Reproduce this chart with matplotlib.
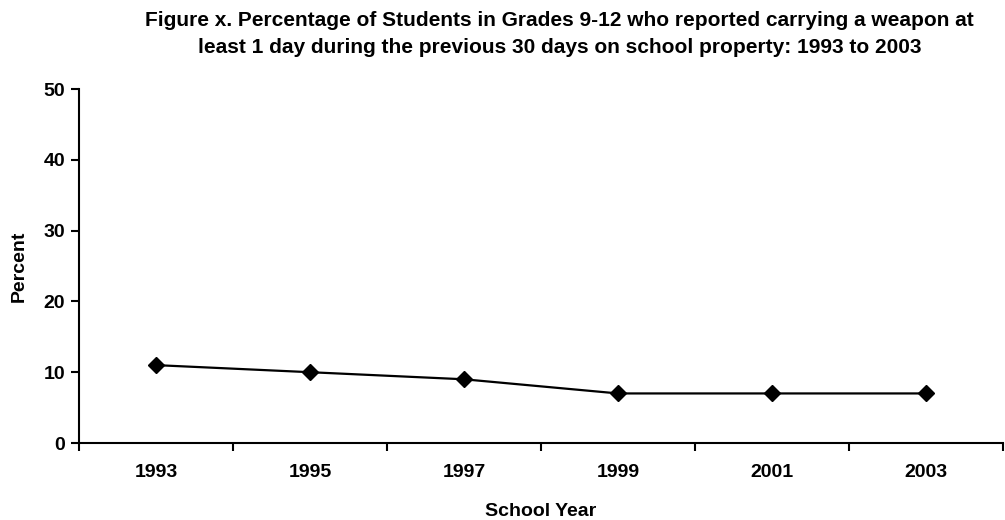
import matplotlib.pyplot as plt

years = ['1993', '1995', '1997', '1999', '2001', '2003']
percent = [11, 10, 9, 7, 7, 7]

plt.rcParams['font.family'] = ['Liberation Sans', 'DejaVu Sans']
plt.rcParams['font.weight'] = 'bold'

fig = plt.figure(figsize=(10.05, 5.2), dpi=100)
ax = fig.add_axes([79 / 1005, 77 / 520, 924 / 1005, 354 / 520])

x = list(range(len(years)))
ax.plot(x, percent, color='black', linewidth=1.6, marker='D', markersize=8)

ax.set_xlim(-0.5, len(years) - 0.5)
ax.set_ylim(0, 50)
ax.set_yticks([0, 10, 20, 30, 40, 50])
ax.set_xticks(x)
ax.set_xticklabels(years)
ax.set_xticks([i - 0.5 for i in range(len(years) + 1)], minor=True)
ax.tick_params(axis='x', which='major', length=0, pad=15, labelsize=14)
ax.tick_params(axis='x', which='minor', length=6, width=1.5, direction='out')
ax.tick_params(axis='y', length=6, width=1.5, direction='out', labelsize=14, pad=4)

for s in ['top', 'right']:
    ax.spines[s].set_visible(False)
for s in ['left', 'bottom']:
    ax.spines[s].set_linewidth(1.5)

ax.set_xlabel('School Year', fontsize=14, fontweight='bold', labelpad=16)
ax.set_ylabel('Percent', fontsize=14, fontweight='bold', labelpad=11)
fig.suptitle('Figure x. Percentage of Students in Grades 9-12 who reported carrying a weapon at\n'
             'least 1 day during the previous 30 days on school property: 1993 to 2003',
             x=0.557, y=0.978, fontsize=15, fontweight='bold', linespacing=1.5)

fig.savefig('out.png', dpi=100)
